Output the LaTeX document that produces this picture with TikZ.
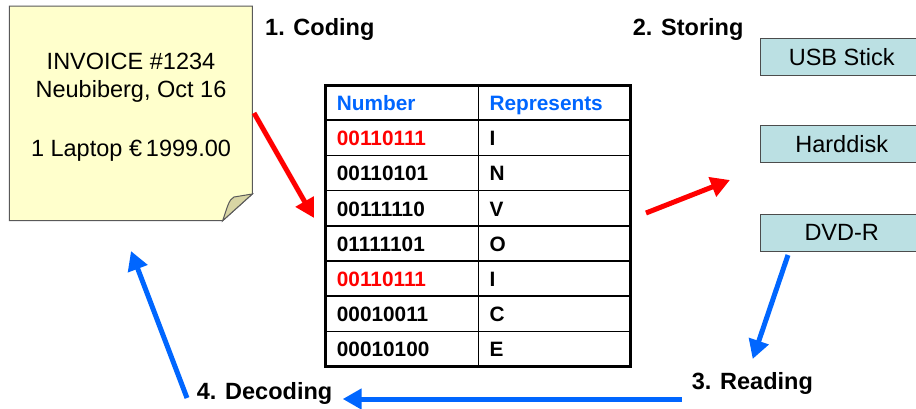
\documentclass[tikz,border=0pt]{standalone}
\usepackage{fontspec}
\setmainfont{Liberation Sans}
\usetikzlibrary{arrows.meta}
\definecolor{notefill}{HTML}{FFFFCC}
\definecolor{foldfill}{HTML}{D8D5A4}
\definecolor{storefill}{HTML}{BBE0E3}
\definecolor{myblue}{HTML}{0066FF}
\definecolor{myred}{HTML}{FF0000}
\tikzset{
  notetext/.style={font=\fontsize{23.5}{28}\selectfont, anchor=base, inner sep=0pt},
  steptitle/.style={font=\fontsize{23.5}{28}\selectfont\bfseries, anchor=base west, inner sep=0pt},
  cell/.style={font=\fontsize{20.8}{25}\selectfont\bfseries, anchor=base west, inner sep=0pt},
  store/.style={draw=black!70, fill=storefill, line width=1pt, minimum width=162pt, minimum height=36.7pt, font=\fontsize{23.5}{28}\selectfont, inner sep=0pt},
  redarrow/.style={myred, line width=5pt, -{Triangle[length=19pt,width=20pt]}},
  bluearrow/.style={myblue, line width=5pt, -{Triangle[length=19pt,width=20pt]}},
}
\begin{document}
\begin{tikzpicture}[x=1pt,y=-1pt]
\useasboundingbox (0,0) rectangle (916,408);
\clip (0,0) rectangle (916,408);
% invoice note
\draw[fill=notefill, draw=black!65, line width=1pt] (9.3,6) -- (252.3,6) -- (252.3,194) -- (222.7,220.7) -- (9.3,220.7) -- cycle;
\draw[fill=foldfill, draw=black!65, line width=1pt] (222.7,220.7) .. controls (227,208) and (229,199) .. (234,197) -- (252.3,194) -- cycle;
\node[notetext] (inv1) at (131,69.5) {INVOICE \#1234};
\node[notetext] (inv2) at (131,97.5) {Neubiberg, Oct 16};
\node[notetext] (inv3) at (131,156.7) {1 Laptop €\,1999.00};
% titles
\node[steptitle] (t1) at (265,35) {1. Coding};
\node[steptitle] (t2) at (632.7,35) {2. Storing};
\node[steptitle] (t3) at (691.7,389) {3. Reading};
\node[steptitle] (t4) at (196.7,399.3) {4. Decoding};
% table
\node[draw, line width=3pt, minimum width=305pt, minimum height=281.7pt, inner sep=0pt] (table) at (478.2,225.85) {};
\foreach \i in {1,...,7}{
  \draw[line width=1.5pt] (325.7,{85+35.2*\i}) -- (630.7,{85+35.2*\i});
}
\draw[line width=1.5pt] (478.3,85) -- (478.3,366.7);
\node[cell, text=myblue] (h1) at (336.7,110.4) {Number};
\node[cell, text=myblue] (h2) at (489.3,110.4) {Represents};
\foreach \n/\l/\c [count=\i] in {00110111/I/myred, 00110101/N/black, 00111110/V/black, 01111101/O/black, 00110111/I/myred, 00010011/C/black, 00010100/E/black}{
  \node[cell, text=\c] (n\i) at (336.7,{110.4+35.2*\i}) {\n};
  \node[cell] (l\i) at (489.3,{110.4+35.2*\i}) {\l};
}
% storage
\node[store] (usb) at (841.7,56.7) {USB Stick};
\node[store] (hdd) at (841.7,144) {Harddisk};
\node[store] (dvd) at (841.7,232.7) {DVD-R};
% arrows
\coordinate (a1s) at (254,113);
\coordinate (a1e) at (314,218);
\coordinate (a2s) at (646,213);
\coordinate (a2e) at (730,180);
\coordinate (a3s) at (788,255);
\coordinate (a3e) at (752.7,359);
\coordinate (a4s) at (681.7,399);
\coordinate (a4e) at (342.7,399);
\coordinate (a5s) at (187,398);
\coordinate (a5e) at (131,251);
\draw[redarrow] (a1s) -- (a1e);
\draw[redarrow] (a2s) -- (a2e);
\draw[bluearrow] (a3s) -- (a3e);
\draw[bluearrow] (a4s) -- (a4e);
\draw[bluearrow] (a5s) -- (a5e);
\end{tikzpicture}
\end{document}
